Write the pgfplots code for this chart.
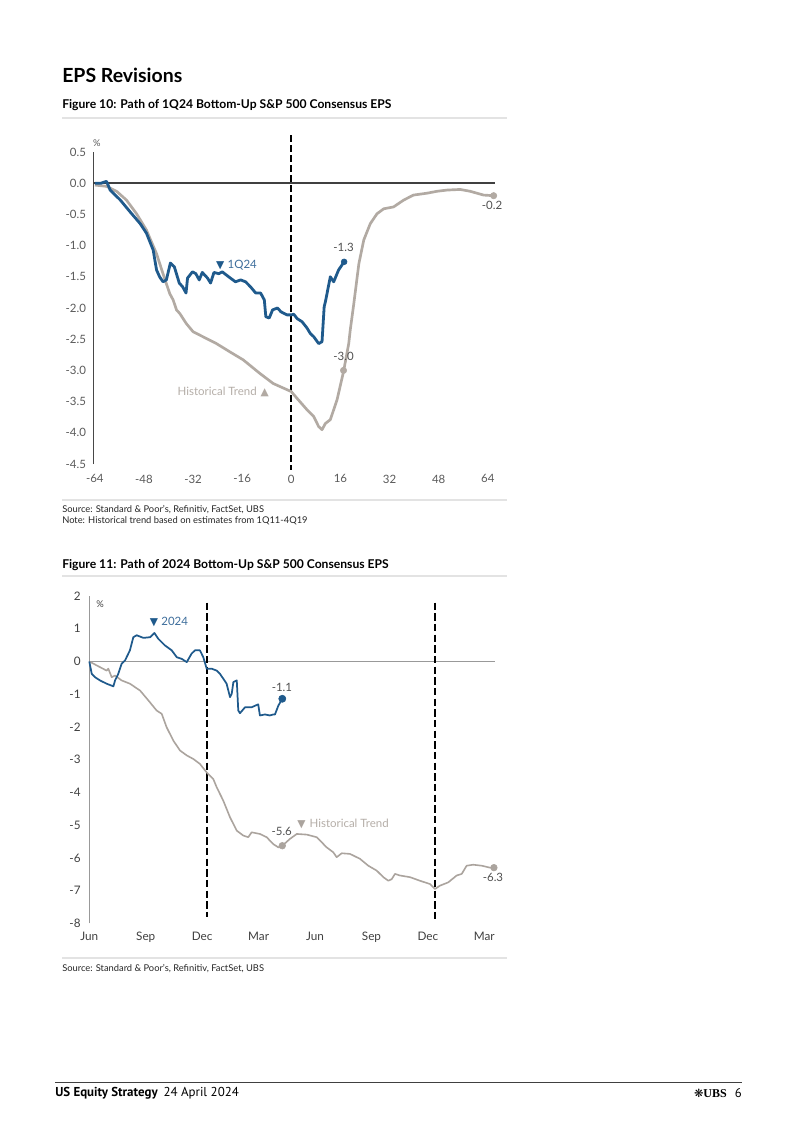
\documentclass[border=0pt]{standalone}
\usepackage{fontspec}
\usepackage{pgfplots}
\pgfplotsset{compat=1.18}
\setmainfont{Lato}
\newfontfamily\sym{DejaVu Sans}
\newfontfamily\ftr{PT Sans}
\newfontfamily\serifb{Liberation Serif}
\definecolor{ubsblue}{HTML}{1F5A8C}
\definecolor{histA}{HTML}{B2AAA3}
\definecolor{histB}{HTML}{ABA49E}
\definecolor{tickA}{HTML}{5A5A5A}
\definecolor{tickB}{HTML}{404040}
\definecolor{rulec}{HTML}{E3E3E3}
\definecolor{lbl}{HTML}{505050}
\definecolor{lblblue}{HTML}{3E6E9C}
\definecolor{histtxt}{HTML}{B5AEA8}

\begin{document}
\begin{tikzpicture}[x=0.75pt,y=-0.75pt]
\path[use as bounding box, fill=white] (0,0) rectangle (802,1134);

% ---- page texts ----
\node[anchor=west, inner sep=0] at (62,75) {\fontsize{14.6}{18}\selectfont\bfseries EPS Revisions};
\node[anchor=west, inner sep=0] at (62,105) {\fontsize{9.1}{11}\selectfont\bfseries Figure 10: Path of 1Q24 Bottom-Up S\&P 500 Consensus EPS};
\draw[rulec, line width=0.8pt] (62,118) -- (507,118);
\draw[rulec, line width=0.8pt] (62,500) -- (507,500);
\node[anchor=west, inner sep=0, text=black!85] at (62,510) {\fontsize{7}{8}\selectfont Source: Standard \& Poor’s, Refinitiv, FactSet, UBS};
\node[anchor=west, inner sep=0, text=black!85] at (62,521) {\fontsize{7}{8}\selectfont Note: Historical trend based on estimates from 1Q11-4Q19};
\node[anchor=west, inner sep=0] at (62,565) {\fontsize{9.1}{11}\selectfont\bfseries Figure 11: Path of 2024 Bottom-Up S\&P 500 Consensus EPS};
\draw[rulec, line width=0.8pt] (62,576) -- (507,576);
\draw[rulec, line width=0.8pt] (62,958) -- (507,958);
\node[anchor=west, inner sep=0, text=black!85] at (62,969) {\fontsize{7}{8}\selectfont Source: Standard \& Poor’s, Refinitiv, FactSet, UBS};
% footer
\draw[black!75, line width=0.7pt] (55,1082) -- (742,1082);
\node[anchor=west, inner sep=0] at (55,1093) {\ftr\fontsize{9.7}{11}\selectfont\bfseries US Equity Strategy\hspace{0.45em}\mdseries 24 April 2024};
\node[anchor=east, inner sep=0] at (742,1093) {{\sym\fontsize{8.5}{9}\selectfont ❋}{\serifb\fontsize{9}{10}\selectfont\bfseries UBS}\hspace{0.6em}{\ftr\fontsize{9.5}{10}\selectfont 6}};

% ---- Figure 10 ----
\begin{axis}[
  at={(69.975pt,-348pt)}, anchor=south west,
  scale only axis, width=301.4pt, height=234pt,
  xmin=-64.5, xmax=66.4, ymin=-4.5, ymax=0.5, clip=false,
  axis lines=left, axis line style={-},
  x axis line style={draw=none},
  y axis line style={draw=black!72, line width=1.1pt},
  xtick={-64,-48,-32,-16,0,16,32,48,64},
  xticklabels={-64,-48,-32,-16,0,16,32,48,64},
  ytick={-4.5,-4,-3.5,-3,-2.5,-2,-1.5,-1,-0.5,0,0.5},
  yticklabels={-4.5,-4.0,-3.5,-3.0,-2.5,-2.0,-1.5,-1.0,-0.5,0.0,0.5},
  major tick length=0pt,
  tick label style={font=\fontsize{8.6}{10}\selectfont, text=tickA},
  xticklabel style={yshift=-4.5pt},
  yticklabel style={xshift=-2pt},
]
\draw[black!72, line width=1.1pt] (axis cs:-64.5,0.5) -- (axis cs:-64.5,-4.5);
\draw[black!75, line width=1.2pt] (axis cs:-64.5,0) -- (axis cs:66.4,0);
\draw[black, line width=1.5pt, dash pattern=on 5pt off 2.5pt] (axis cs:0,0.77) -- (axis cs:0,-4.6);
\addplot[histA, line width=2pt, line join=round] coordinates {
(-64,-0.03) (-60.2,-0.05) (-56.9,-0.13) (-53.7,-0.27) (-50.4,-0.49) (-47.2,-0.75) (-43.9,-1.13) (-41.8,-1.45) (-39.6,-1.77) (-38.5,-1.87) (-37.4,-2.03) (-36.3,-2.09) (-34.2,-2.25) (-32,-2.38) (-28.8,-2.46) (-24.4,-2.57) (-20.1,-2.7) (-15.7,-2.83) (-10.2,-3.05) (-5.9,-3.21) (0,-3.34) (1.9,-3.45) (5.1,-3.63) (7.3,-3.74) (8.9,-3.9) (10,-3.95) (11.1,-3.85) (12.7,-3.79) (14.9,-3.47) (17,-3.02) (18.7,-2.57) (19.2,-2.35) (20.3,-1.95) (22,-1.29) (23.6,-0.91) (25.7,-0.65) (27.9,-0.49) (30.1,-0.41) (33.3,-0.38) (36.6,-0.27) (39.8,-0.19) (44.2,-0.16) (47.4,-0.13) (50.7,-0.11) (55,-0.1) (58.3,-0.13) (62.6,-0.19) (65.9,-0.2)
};
\addplot[ubsblue, line width=2.1pt, line join=round] coordinates {
(-64,0) (-62,0.0) (-60.2,0.03) (-59,-0.11) (-55.7,-0.27) (-52.5,-0.46) (-49.2,-0.65) (-47.2,-0.8) (-45,-1.07) (-43.9,-1.39) (-42.9,-1.5) (-41.8,-1.58) (-40.7,-1.55) (-39.4,-1.28) (-38.1,-1.34) (-36.5,-1.6) (-35.4,-1.66) (-34.3,-1.76) (-33.8,-1.52) (-32.2,-1.42) (-31.1,-1.45) (-30,-1.55) (-29,-1.43) (-27.3,-1.52) (-26.3,-1.6) (-25.2,-1.43) (-23.6,-1.45) (-22.5,-1.42) (-20.4,-1.5) (-18.2,-1.58) (-16.5,-1.55) (-14.9,-1.58) (-13.3,-1.66) (-11.6,-1.76) (-10,-1.76) (-8.8,-1.87) (-8.3,-2.14) (-7.2,-2.16) (-6.1,-2.03) (-4.5,-2.0) (-3.4,-2.06) (-1.4,-2.11) (0,-2.11) (0.8,-2.1) (1.9,-2.17) (3.5,-2.22) (5.1,-2.32) (6.2,-2.41) (7.3,-2.46) (8.9,-2.57) (10,-2.54) (10.7,-1.98) (11.1,-1.9) (12.7,-1.5) (13.8,-1.58) (15.4,-1.39) (17.2,-1.26)
};
\addplot[only marks, mark=*, mark size=2.2pt, color=ubsblue] coordinates {(17.2,-1.26)};
\addplot[only marks, mark=*, mark size=2.4pt, color=histA] coordinates {(65.9,-0.2) (17,-3.0)};
\node[text=tickA, font=\fontsize{7}{8}\selectfont] at (axis cs:-63.3,0.64) {\%};
\node[anchor=west, inner sep=0, font=\fontsize{8.6}{10}\selectfont] at (axis cs:-24.6,-1.31) {{\sym\color{ubsblue}\fontsize{8}{9}\selectfont ▼}\hspace{0.3em}{\color{lblblue}1Q24}};
\node[text=lbl, font=\fontsize{8.6}{10}\selectfont] at (axis cs:17,-1.03) {-1.3};
\node[text=lbl, font=\fontsize{8.6}{10}\selectfont] at (axis cs:65.4,-0.36) {-0.2};
\node[text=lbl, font=\fontsize{8.6}{10}\selectfont] at (axis cs:17,-2.78) {-3.0};
\node[anchor=east, inner sep=0, font=\fontsize{8.6}{10}\selectfont] at (axis cs:-7.2,-3.34) {{\color{histtxt}Historical Trend}\hspace{0.35em}{\sym\color{histA}\fontsize{8}{9}\selectfont ▲}};
\end{axis}

% ---- Figure 11 ----
\begin{axis}[
  at={(66.975pt,-692.475pt)}, anchor=south west,
  scale only axis, width=304.3pt, height=245.5pt,
  xmin=0, xmax=21.57, ymin=-8, ymax=2, clip=false,
  axis lines=left, axis line style={-},
  x axis line style={draw=none},
  y axis line style={draw=black!40, line width=0.6pt},
  xtick={0,3,6,9,12,15,18,21},
  xticklabels={Jun,Sep,Dec,Mar,Jun,Sep,Dec,Mar},
  ytick={-8,-7,-6,-5,-4,-3,-2,-1,0,1,2},
  yticklabels={-8,-7,-6,-5,-4,-3,-2,-1,0,1,2},
  major tick length=0pt,
  tick label style={font=\fontsize{8.8}{10}\selectfont, text=tickB},
  xticklabel style={yshift=-3pt},
  yticklabel style={xshift=-3pt},
]
\draw[black!40, line width=0.6pt] (axis cs:0,0) -- (axis cs:21.57,0);
\draw[black, line width=1.7pt, dash pattern=on 5.5pt off 2.5pt] (axis cs:6.24,1.8) -- (axis cs:6.24,-7.8);
\draw[black, line width=1.7pt, dash pattern=on 5.5pt off 2.5pt] (axis cs:18.38,1.8) -- (axis cs:18.38,-7.95);
\addplot[histB, line width=1.2pt, line join=round] coordinates {
(0,0) (0.39,-0.12) (0.92,-0.28) (1.01,-0.22) (1.19,-0.48) (1.37,-0.43) (1.72,-0.58) (2.16,-0.68) (2.7,-0.89) (3.14,-1.19) (3.58,-1.5) (3.85,-1.6) (4.11,-2.01) (4.47,-2.42) (4.82,-2.72) (5.18,-2.87) (5.53,-2.98) (5.88,-3.13) (6.24,-3.39) (6.59,-3.59) (6.77,-3.84) (7.12,-4.25) (7.48,-4.76) (7.84,-5.17) (8.19,-5.32) (8.45,-5.37) (8.63,-5.22) (9.07,-5.27) (9.43,-5.37) (9.78,-5.58) (10.05,-5.68) (10.26,-5.63) (10.67,-5.42) (11.03,-5.27) (11.56,-5.29) (12.09,-5.37) (12.62,-5.68) (12.97,-5.83) (13.15,-5.98) (13.42,-5.86) (13.86,-5.88) (14.39,-6.03) (14.83,-6.24) (15.28,-6.39) (15.63,-6.59) (15.9,-6.7) (16.08,-6.65) (16.25,-6.49) (16.52,-6.54) (17.05,-6.59) (17.58,-6.7) (18.11,-6.8) (18.38,-6.95) (18.64,-6.85) (19.08,-6.75) (19.53,-6.54) (19.8,-6.49) (20.06,-6.24) (20.41,-6.21) (20.86,-6.24) (21.3,-6.3) (21.51,-6.3)
};
\addplot[ubsblue, line width=1.3pt, line join=round] coordinates {
(0,0) (0.13,-0.38) (0.3,-0.48) (0.57,-0.58) (0.92,-0.68) (1.28,-0.76) (1.37,-0.58) (1.54,-0.38) (1.72,-0.07) (1.9,0.03) (2.16,0.34) (2.34,0.74) (2.52,0.8) (2.87,0.72) (3.23,0.74) (3.46,0.87) (3.67,0.69) (4.02,0.49) (4.38,0.34) (4.65,0.13) (4.91,0.08) (5.18,-0.02) (5.44,0.24) (5.62,0.34) (5.88,0.34) (6.06,0.13) (6.24,-0.22) (6.5,-0.22) (6.77,-0.28) (6.95,-0.38) (7.3,-0.68) (7.48,-1.09) (7.57,-0.99) (7.66,-0.63) (7.84,-0.58) (7.92,-1.5) (8.01,-1.58) (8.28,-1.4) (8.63,-1.4) (8.98,-1.31) (9.07,-1.65) (9.34,-1.62) (9.6,-1.65) (9.78,-1.62) (9.87,-1.62) (10.05,-1.35) (10.26,-1.14)
};
\addplot[only marks, mark=*, mark size=2.7pt, color=ubsblue] coordinates {(10.26,-1.14)};
\addplot[only marks, mark=*, mark size=2.5pt, color=histB] coordinates {(10.26,-5.63) (21.51,-6.3)};
\node[text=tickB, font=\fontsize{7}{8}\selectfont] at (axis cs:0.57,1.76) {\%};
\node[anchor=west, inner sep=0, font=\fontsize{8.6}{10}\selectfont] at (axis cs:3.2,1.22) {{\sym\color{ubsblue}\fontsize{8}{9}\selectfont ▼}\hspace{0.3em}{\color{lblblue}2024}};
\node[text=lbl, font=\fontsize{8.6}{10}\selectfont] at (axis cs:10.24,-0.8) {-1.1};
\node[text=lbl, font=\fontsize{8.6}{10}\selectfont] at (axis cs:10.23,-5.2) {-5.6};
\node[text=lbl, font=\fontsize{8.6}{10}\selectfont] at (axis cs:21.46,-6.6) {-6.3};
\node[anchor=west, inner sep=0, font=\fontsize{8.6}{10}\selectfont] at (axis cs:11.05,-4.95) {{\sym\color{histB}\fontsize{8}{9}\selectfont ▼}\hspace{0.35em}{\color{histtxt}Historical Trend}};
\end{axis}
\end{tikzpicture}
\end{document}
